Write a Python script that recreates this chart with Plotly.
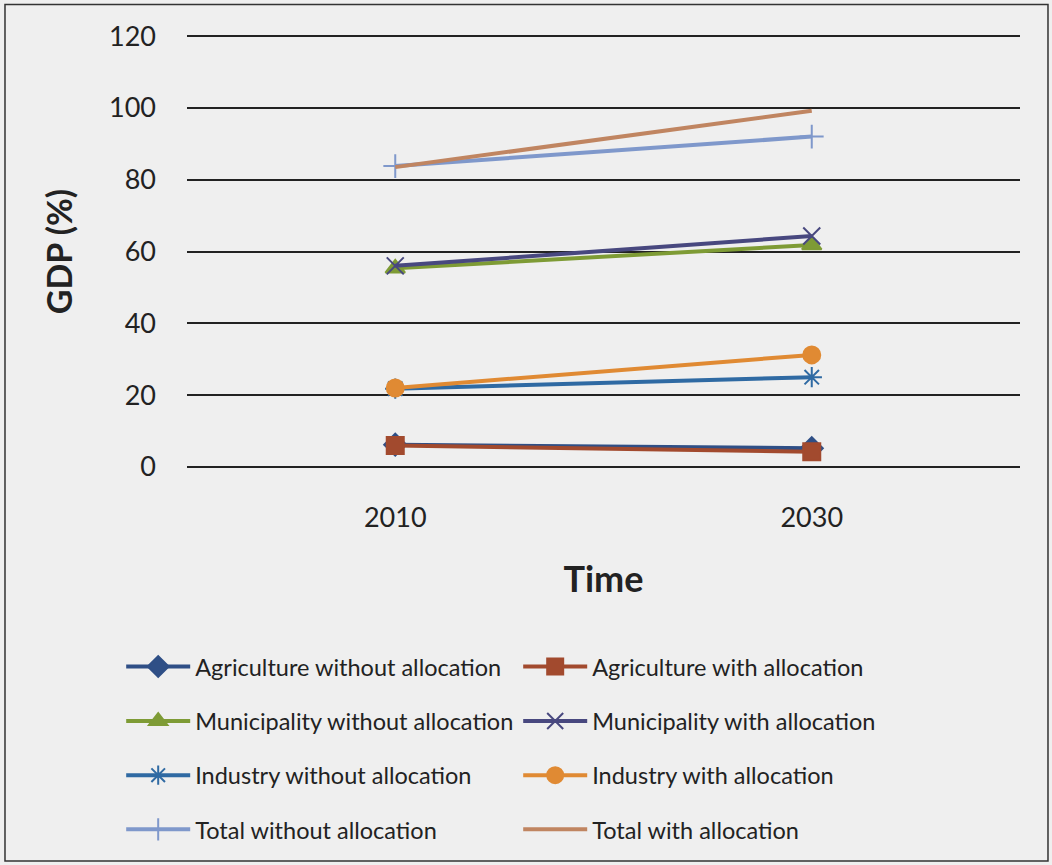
import plotly.graph_objects as go

years = ["2010", "2030"]
agri_without = [6.2, 5.2]
agri_with = [6.0, 4.2]
muni_without = [55.3, 61.8]
muni_with = [56.0, 64.3]
ind_without = [21.8, 25.0]
ind_with = [22.0, 31.2]
total_without = [83.8, 92.0]
total_with = [83.5, 99.2]

# name, values, colour, marker symbol, legend row
series = [
    ("Agriculture without allocation", agri_without, "#2f4f86", "diamond", "legend"),
    ("Agriculture with allocation", agri_with, "#a24a2e", "square", "legend"),
    ("Municipality without allocation", muni_without, "#7e9b35", "triangle-up", "legend2"),
    ("Municipality with allocation", muni_with, "#48487f", "x-thin-open", "legend2"),
    ("Industry without allocation", ind_without, "#2f6aa3", "asterisk-open", "legend3"),
    ("Industry with allocation", ind_with, "#e08a33", "circle", "legend3"),
    ("Total without allocation", total_without, "#7f98cb", "cross-thin-open", "legend4"),
    ("Total with allocation", total_with, "#c08561", None, "legend4"),
]

fig = go.Figure()
for name, vals, color, sym, leg in series:
    if sym is None:
        fig.add_trace(go.Scatter(x=years, y=vals, name=name, mode="lines", legend=leg,
                                 line=dict(color=color, width=4)))
    else:
        fig.add_trace(go.Scatter(x=years, y=vals, name=name, mode="lines+markers", legend=leg,
                                 line=dict(color=color, width=4),
                                 marker=dict(symbol=sym, size=17, color=color,
                                             line=dict(color=color, width=2))))

font = "Lato, 'Open Sans', sans-serif"


def legend_row(y):
    return dict(orientation="h", x=-0.079, xanchor="left", y=y, yanchor="middle",
                entrywidth=318, entrywidthmode="pixels", itemwidth=64,
                font=dict(size=23.5, color="#222222"), bgcolor="rgba(0,0,0,0)")


fig.update_layout(
    width=1052, height=865,
    margin=dict(l=187, r=32, t=35, b=397),
    paper_bgcolor="#efefef", plot_bgcolor="#efefef",
    font=dict(family=font, size=22, color="#222222"),
    showlegend=True,
    legend=legend_row(-0.459),
    legend2=legend_row(-0.585),
    legend3=legend_row(-0.710),
    legend4=legend_row(-0.835),
    xaxis=dict(type="category", range=[-0.5, 1.5], showgrid=False, showline=False,
               zeroline=False, ticks="", ticklabelstandoff=31,
               tickfont=dict(size=27),
               title=dict(text="<b>Time</b>", font=dict(size=36), standoff=34)),
    yaxis=dict(range=[-0.3, 120.3], tickvals=[0, 20, 40, 60, 80, 100, 120],
               showgrid=True, gridcolor="#222222", gridwidth=1.5,
               zeroline=False, showline=False, ticks="", ticklabelstandoff=30,
               tickfont=dict(size=27),
               title=dict(text="<b>GDP (%)</b>", font=dict(size=34), standoff=26)),
    shapes=[dict(type="rect", xref="paper", yref="paper",
                 x0=-0.2185, x1=1.0336, y0=-0.9076, y1=1.0706,
                 line=dict(color="#333333", width=1.5), layer="below")],
)
fig.write_html("out.html", config={"displayModeBar": False},
               post_script="document.body.style.margin='0';")
